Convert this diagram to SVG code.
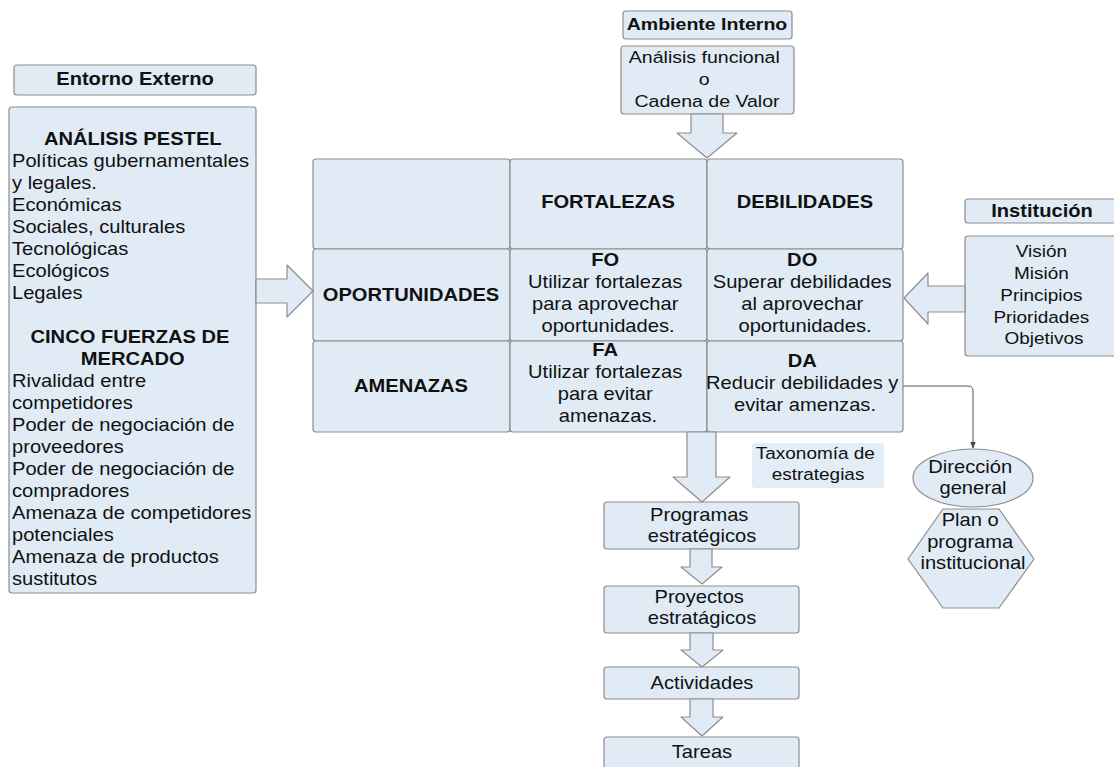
<svg xmlns="http://www.w3.org/2000/svg" width="1114" height="767" viewBox="0 0 1114 767">
  <defs>
    <style>
      .box { fill: #e0ebf6; stroke: #8e8e8e; stroke-width: 1.2; }
      .plain { fill: #e3edf7; stroke: none; }
      .arrow { fill: #e0ebf6; stroke: #8e8e8e; stroke-width: 1.2; stroke-linejoin: round; }
      .link { fill: none; stroke: #555; stroke-width: 1; }
      .t { font-family: "Liberation Sans", Arial, sans-serif; font-size: 17.5px; fill: #111; }
      .s { font-size: 16.5px; }
      .b { font-weight: bold; }
      .c { text-anchor: middle; }
    </style>
    <marker id="tip" viewBox="0 0 10 10" refX="9" refY="5" markerWidth="7" markerHeight="7" orient="auto">
      <path d="M0,1 L10,5 L0,9 z" fill="#444"/>
    </marker>
  </defs>
  <rect width="1114" height="767" fill="#ffffff"/>

  <!-- External environment -->
  <g id="entorno-titulo">
    <rect class="box" x="14" y="65" width="242" height="30" rx="3"/>
    <text class="t b c" transform="translate(135,0) scale(1.15,1)" x="0" y="85">Entorno Externo</text>
  </g>
  <g id="entorno">
    <rect class="box" x="9" y="107" width="247" height="486" rx="3"/>
    <g transform="translate(12,0) scale(1.15,1)">
      <text class="t b c" x="105" y="145">ANÁLISIS PESTEL</text>
      <text class="t" y="167">
        <tspan x="0" y="167">Políticas gubernamentales</tspan>
        <tspan x="0" y="189">y legales.</tspan>
        <tspan x="0" y="211">Económicas</tspan>
        <tspan x="0" y="233">Sociales, culturales</tspan>
        <tspan x="0" y="255">Tecnológicas</tspan>
        <tspan x="0" y="277">Ecológicos</tspan>
        <tspan x="0" y="299">Legales</tspan>
      </text>
      <text class="t b c" x="105" y="343">
        <tspan x="105" y="343">CINCO FUERZAS DE</tspan>
        <tspan x="105" y="365">MERCADO</tspan>
      </text>
      <text class="t" y="387">
        <tspan x="0" y="387">Rivalidad entre</tspan>
        <tspan x="0" y="409">competidores</tspan>
        <tspan x="0" y="431">Poder de negociación de</tspan>
        <tspan x="0" y="453">proveedores</tspan>
        <tspan x="0" y="475">Poder de negociación de</tspan>
        <tspan x="0" y="497">compradores</tspan>
        <tspan x="0" y="519">Amenaza de competidores</tspan>
        <tspan x="0" y="541">potenciales</tspan>
        <tspan x="0" y="563">Amenaza de productos</tspan>
        <tspan x="0" y="585">sustitutos</tspan>
      </text>
    </g>
  </g>

  <!-- Internal environment -->
  <g id="ambiente-titulo">
    <rect class="box" x="623" y="11" width="169" height="28" rx="3"/>
    <text class="t b c" transform="translate(707,0) scale(1.15,1)" x="0" y="30" style="font-size:17px">Ambiente Interno</text>
  </g>
  <g id="analisis-funcional">
    <rect class="box" x="621" y="46" width="173" height="68" rx="3"/>
    <text class="t c" transform="translate(707,0) scale(1.15,1)" style="font-size:17px">
      <tspan x="0" y="63">Análisis funcional</tspan>
      <tspan x="0" y="85">o</tspan>
      <tspan x="0" y="107">Cadena de Valor</tspan>
    </text>
  </g>

  <!-- SWOT matrix -->
  <g id="celda-vacia"><rect class="box" x="313" y="159" width="197" height="90" rx="3"/></g>
  <g id="fortalezas">
    <rect class="box" x="510" y="159" width="197" height="90" rx="3"/>
    <text class="t b c" transform="translate(608,0) scale(1.15,1)" x="0" y="208">FORTALEZAS</text>
  </g>
  <g id="debilidades">
    <rect class="box" x="707" y="159" width="196" height="90" rx="3"/>
    <text class="t b c" transform="translate(805,0) scale(1.15,1)" x="0" y="208">DEBILIDADES</text>
  </g>
  <g id="oportunidades">
    <rect class="box" x="313" y="249" width="197" height="92" rx="3"/>
    <text class="t b c" transform="translate(411,0) scale(1.15,1)" x="0" y="301">OPORTUNIDADES</text>
  </g>
  <g id="fo">
    <rect class="box" x="510" y="249" width="197" height="92" rx="3"/>
    <text class="t c" transform="translate(608,0) scale(1.15,1)">
      <tspan class="b" x="0" y="266">FO</tspan>
      <tspan x="0" y="288">Utilizar fortalezas</tspan>
      <tspan x="0" y="310">para aprovechar</tspan>
      <tspan x="0" y="332">oportunidades.</tspan>
    </text>
  </g>
  <g id="do">
    <rect class="box" x="707" y="249" width="196" height="92" rx="3"/>
    <text class="t c" transform="translate(805,0) scale(1.15,1)">
      <tspan class="b" x="0" y="266">DO</tspan>
      <tspan x="0" y="288">Superar debilidades</tspan>
      <tspan x="0" y="310">al aprovechar</tspan>
      <tspan x="0" y="332">oportunidades.</tspan>
    </text>
  </g>
  <g id="amenazas">
    <rect class="box" x="313" y="341" width="197" height="91" rx="3"/>
    <text class="t b c" transform="translate(411,0) scale(1.15,1)" x="0" y="392">AMENAZAS</text>
  </g>
  <g id="fa">
    <rect class="box" x="510" y="341" width="197" height="91" rx="3"/>
    <text class="t c" transform="translate(608,0) scale(1.15,1)">
      <tspan class="b" x="0" y="356">FA</tspan>
      <tspan x="0" y="378">Utilizar fortalezas</tspan>
      <tspan x="0" y="400">para evitar</tspan>
      <tspan x="0" y="422">amenazas.</tspan>
    </text>
  </g>
  <g id="da">
    <rect class="box" x="707" y="341" width="196" height="91" rx="3"/>
    <text class="t c" transform="translate(805,0) scale(1.15,1)">
      <tspan class="b" x="0" y="367">DA</tspan>
      <tspan x="0" y="389">Reducir debilidades y</tspan>
      <tspan x="0" y="411">evitar amenzas.</tspan>
    </text>
  </g>

  <!-- Institution -->
  <g id="institucion-titulo">
    <rect class="box" x="965" y="199" width="152" height="24" rx="3"/>
    <text class="t b c" transform="translate(1042,0) scale(1.15,1)" x="0" y="217">Institución</text>
  </g>
  <g id="institucion">
    <rect class="box" x="965" y="236" width="152" height="120" rx="3"/>
    <text class="t s c" transform="translate(1044,0) scale(1.15,1)">
      <tspan x="0" y="257">Visión</tspan>
      <tspan x="0" y="279">Misión</tspan>
      <tspan x="0" y="301">Principios</tspan>
      <tspan x="0" y="323">Prioridades</tspan>
      <tspan x="0" y="344">Objetivos</tspan>
    </text>
  </g>

  <!-- Strategy taxonomy -->
  <g id="taxonomia">
    <rect class="plain" x="752" y="443" width="132" height="45" rx="3"/>
    <text class="t s c" transform="translate(818,0) scale(1.15,1)">
      <tspan x="0" y="459">Taxonomía de</tspan>
      <tspan x="0" y="480">estrategias</tspan>
    </text>
  </g>
  <g id="programas">
    <rect class="box" x="604" y="502" width="195" height="47" rx="3"/>
    <text class="t c" transform="translate(702,0) scale(1.15,1)">
      <tspan x="0" y="521">Programas</tspan>
      <tspan x="0" y="542">estratégicos</tspan>
    </text>
  </g>
  <g id="proyectos">
    <rect class="box" x="604" y="586" width="195" height="47" rx="3"/>
    <text class="t c" transform="translate(702,0) scale(1.15,1)">
      <tspan x="0" y="603">Proyectos</tspan>
      <tspan x="0" y="624">estratágicos</tspan>
    </text>
  </g>
  <g id="actividades">
    <rect class="box" x="604" y="667" width="195" height="32" rx="3"/>
    <text class="t c" transform="translate(702,0) scale(1.15,1)" x="0" y="689">Actividades</text>
  </g>
  <g id="tareas">
    <rect class="box" x="604" y="737" width="195" height="36" rx="3"/>
    <text class="t c" transform="translate(702,0) scale(1.15,1)" x="0" y="758">Tareas</text>
  </g>

  <!-- General direction -->
  <g id="direccion">
    <ellipse class="box" cx="973" cy="478" rx="60" ry="29"/>
    <text class="t c" transform="translate(973,0) scale(1.15,1)">
      <tspan x="0" y="473">Dirección</tspan>
      <tspan x="0" y="494">general</tspan>
    </text>
  </g>
  <g id="plan">
    <polygon class="box" points="943,509 999,509 1034,559 999,608 943,608 908,559"/>
    <text class="t c" transform="translate(973,0) scale(1.15,1)">
      <tspan x="0" y="526">Plan o</tspan>
      <tspan x="0" y="548">programa</tspan>
      <tspan x="0" y="569">institucional</tspan>
    </text>
  </g>

  <!-- Connectors -->
  <g id="conectores">
    <polygon class="arrow" points="256,279 287,279 287,265 313,291 287,317 287,303 256,303"/>
    <polygon class="arrow" points="691,114 723,114 723,133 737,133 707,158 677,133 691,133"/>
    <polygon class="arrow" points="965,286 928,286 928,273 904,298 928,324 928,312 965,312"/>
    <polygon class="arrow" points="687,432 716,432 716,477 730,477 702,502 673,477 687,477"/>
    <polygon class="arrow" points="690,549 712,549 712,567 722,567 702,584 681,567 690,567"/>
    <polygon class="arrow" points="690,633 713,633 713,650 723,650 702,667 681,650 690,650"/>
    <polygon class="arrow" points="690,699 713,699 713,717 723,717 702,736 681,717 690,717"/>
    <path class="link" d="M903,386 H968 Q973,386 973,391 V448" marker-end="url(#tip)"/>
  </g>
</svg>
